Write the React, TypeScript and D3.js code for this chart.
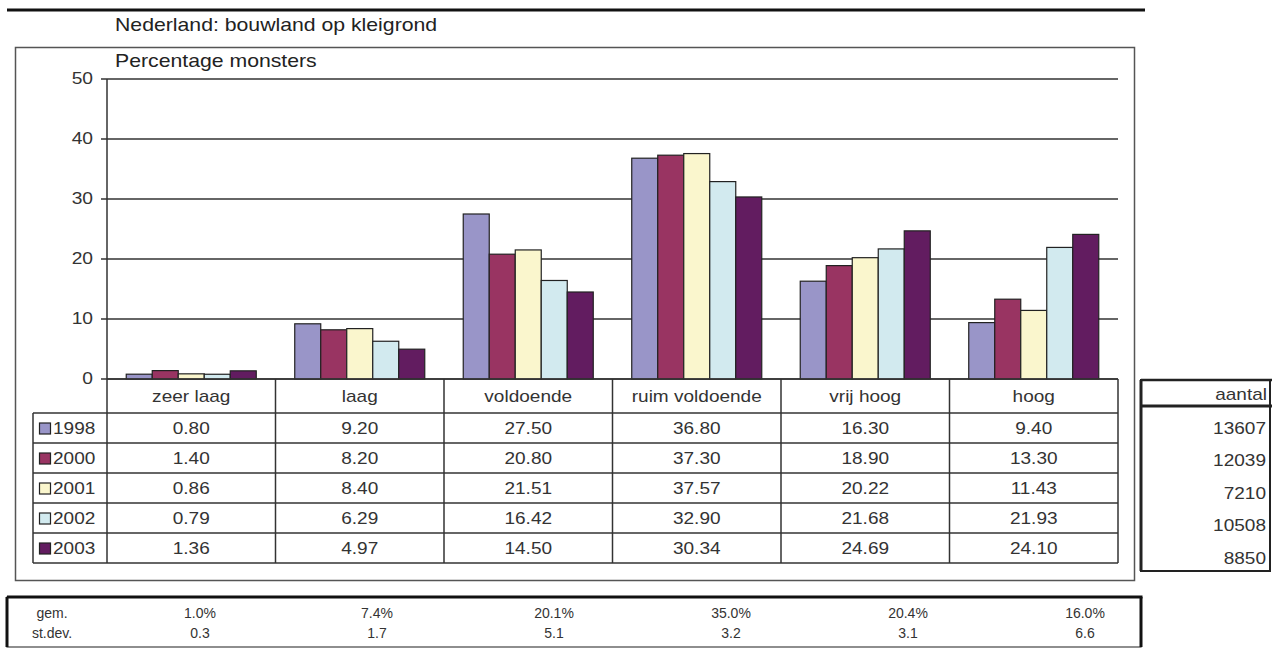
import React from "react";
import * as d3 from "d3";

const title = "Nederland: bouwland op kleigrond";
const yTitle = "Percentage monsters";
const categories = ["zeer laag", "laag", "voldoende", "ruim voldoende", "vrij hoog", "hoog"];
const years = ["1998", "2000", "2001", "2002", "2003"];
const colors = ["#9995C8", "#993462", "#FAF6CD", "#D2EAEF", "#621C60"];
const v1998 = [0.8, 9.2, 27.5, 36.8, 16.3, 9.4];
const v2000 = [1.4, 8.2, 20.8, 37.3, 18.9, 13.3];
const v2001 = [0.86, 8.4, 21.51, 37.57, 20.22, 11.43];
const v2002 = [0.79, 6.29, 16.42, 32.9, 21.68, 21.93];
const v2003 = [1.36, 4.97, 14.5, 30.34, 24.69, 24.1];
const series = [v1998, v2000, v2001, v2002, v2003];
const aantalLabel = "aantal";
const aantal = [13607, 12039, 7210, 10508, 8850];
const statLabels = ["gem.", "st.dev."];
const gem = ["1.0%", "7.4%", "20.1%", "35.0%", "20.4%", "16.0%"];
const stdev = ["0.3", "1.7", "5.1", "3.2", "3.1", "6.6"];
const yTicks = [0, 10, 20, 30, 40, 50];

const FONT = "'Liberation Sans', Arial, sans-serif";

function T({ x, y, children, anchor = "middle", size = 17, sx = 1.12, fill = "#333", baseline = "central" }: any) {
  return (
    <text
      transform={`translate(${x},${y}) scale(${sx},1)`}
      textAnchor={anchor}
      dominantBaseline={baseline}
      fontSize={size}
      fontFamily={FONT}
      fill={fill}
    >
      {children}
    </text>
  );
}

export default function App() {
  const plotLeft = 107;
  const plotRight = 1118;
  const y = d3.scaleLinear().domain([0, 50]).range([379, 79]);
  const x = d3.scaleBand<string>().domain(categories).range([plotLeft, plotRight]).padding(0);
  const xi = d3.scaleBand<string>().domain(years).range([0, x.bandwidth()]).paddingInner(0).paddingOuter(0.74);

  const headerTop = y(0);
  const headerBottom = 413;
  const rowH = 30;
  const rowTop = (i: number) => headerBottom + i * rowH;
  const tableBottom = rowTop(years.length);
  const legendLeft = 33;

  const lineC = "#333";

  // aantal box
  const aL = 1141, aR = 1270, aT = 380, aH = 406, aB = 571;
  const aRow = d3.scaleLinear().domain([0, years.length - 1]).range([428, 558]);

  // bottom stats box
  const bL = 7, bR = 1141, bT = 597, bB = 647;
  const bx = d3.scaleLinear().domain([0, gem.length - 1]).range([200, 1085]);

  return (
    <svg width={1280} height={648} style={{ position: "absolute", left: 0, top: 0, background: "#fff" }}>
      <rect x={0} y={0} width={1280} height={648} fill="#fff" />
      {/* top rule */}
      <line x1={7} x2={1145} y1={10} y2={10} stroke="#111" strokeWidth={3} />
      <T x={115} y={31} anchor="start" size={18} sx={1.18} fill="#222" baseline="alphabetic">{title}</T>

      {/* frame */}
      <rect x={15.5} y={47.5} width={1119} height={533} fill="none" stroke="#555" strokeWidth={1.5} />
      <T x={115} y={66.5} anchor="start" size={18} sx={1.18} fill="#222" baseline="alphabetic">{yTitle}</T>

      {/* gridlines and ticks */}
      {yTicks.map((t) => (
        <g key={t}>
          <line x1={plotLeft} x2={plotRight} y1={y(t)} y2={y(t)} stroke={lineC} strokeWidth={1.5} />
          <line x1={101} x2={plotLeft} y1={y(t)} y2={y(t)} stroke={lineC} strokeWidth={1.5} />
          <T x={93} y={y(t)} anchor="end" size={16} sx={1.2}>{t}</T>
        </g>
      ))}

      {/* bars */}
      {series.map((vals, si) =>
        vals.map((v, ci) => (
          <rect
            key={`${si}-${ci}`}
            x={(x(categories[ci]) as number) + (xi(years[si]) as number)}
            y={y(v)}
            width={xi.bandwidth()}
            height={y(0) - y(v)}
            fill={colors[si]}
            stroke="#222"
            strokeWidth={1.2}
          />
        ))
      )}

      {/* y axis line */}
      <line x1={plotLeft} x2={plotLeft} y1={y(50)} y2={tableBottom} stroke={lineC} strokeWidth={1.5} />

      {/* data table */}
      <line x1={plotLeft} x2={plotRight} y1={headerTop} y2={headerTop} stroke={lineC} strokeWidth={1.5} />
      {d3.range(years.length + 1).map((i) => (
        <line key={`h${i}`} x1={legendLeft} x2={plotRight} y1={rowTop(i)} y2={rowTop(i)} stroke={lineC} strokeWidth={1.5} />
      ))}
      <line x1={legendLeft} x2={legendLeft} y1={headerBottom} y2={tableBottom} stroke={lineC} strokeWidth={1.5} />
      {categories.map((c) => (
        <line key={`v${c}`} x1={(x(c) as number) + x.bandwidth()} x2={(x(c) as number) + x.bandwidth()} y1={headerTop} y2={tableBottom} stroke={lineC} strokeWidth={1.5} />
      ))}
      {categories.map((c) => (
        <T key={`c${c}`} x={(x(c) as number) + x.bandwidth() / 2} y={(headerTop + headerBottom) / 2}>{c}</T>
      ))}
      {years.map((yr, si) => (
        <g key={`r${yr}`}>
          <rect x={39.5} y={rowTop(si) + 10} width={11} height={11} fill={colors[si]} stroke="#222" strokeWidth={1.2} />
          <T x={53} y={rowTop(si) + rowH / 2} anchor="start">{yr}</T>
          {series[si].map((v, ci) => (
            <T key={ci} x={(x(categories[ci]) as number) + x.bandwidth() / 2} y={rowTop(si) + rowH / 2}>{v.toFixed(2)}</T>
          ))}
        </g>
      ))}

      {/* aantal box */}
      <rect x={aL} y={aT} width={aR - aL} height={aB - aT} fill="none" stroke="#222" strokeWidth={2} />
      <line x1={aL} x2={aL} y1={aT} y2={aB} stroke="#222" strokeWidth={3} />
      <line x1={aL} x2={aR + 2} y1={aT} y2={aT} stroke="#222" strokeWidth={2.5} />
      <line x1={aL} x2={aR + 2} y1={aH} y2={aH} stroke="#222" strokeWidth={3} />
      <T x={aR - 3} y={(aT + aH) / 2 + 1} anchor="end">{aantalLabel}</T>
      {aantal.map((n, i) => (
        <T key={`a${i}`} x={aR - 4} y={aRow(i)} anchor="end">{n}</T>
      ))}

      {/* stats box */}
      <rect x={bL} y={bT} width={bR - bL} height={bB - bT} fill="none" stroke="#444" strokeWidth={1.2} />
      <line x1={bL} x2={bR + 1.5} y1={bT} y2={bT} stroke="#111" strokeWidth={3} />
      <line x1={bL} x2={bL} y1={bT} y2={bB} stroke="#111" strokeWidth={3} />
      <line x1={bR} x2={bR} y1={bT} y2={bB} stroke="#111" strokeWidth={3} />
      <T x={52} y={613} size={14} sx={1}>{statLabels[0]}</T>
      <T x={52} y={633} size={14} sx={1}>{statLabels[1]}</T>
      {gem.map((g, i) => (
        <T key={`g${i}`} x={bx(i)} y={613} size={14} sx={1}>{g}</T>
      ))}
      {stdev.map((s, i) => (
        <T key={`s${i}`} x={bx(i)} y={633} size={14} sx={1}>{s}</T>
      ))}
    </svg>
  );
}
